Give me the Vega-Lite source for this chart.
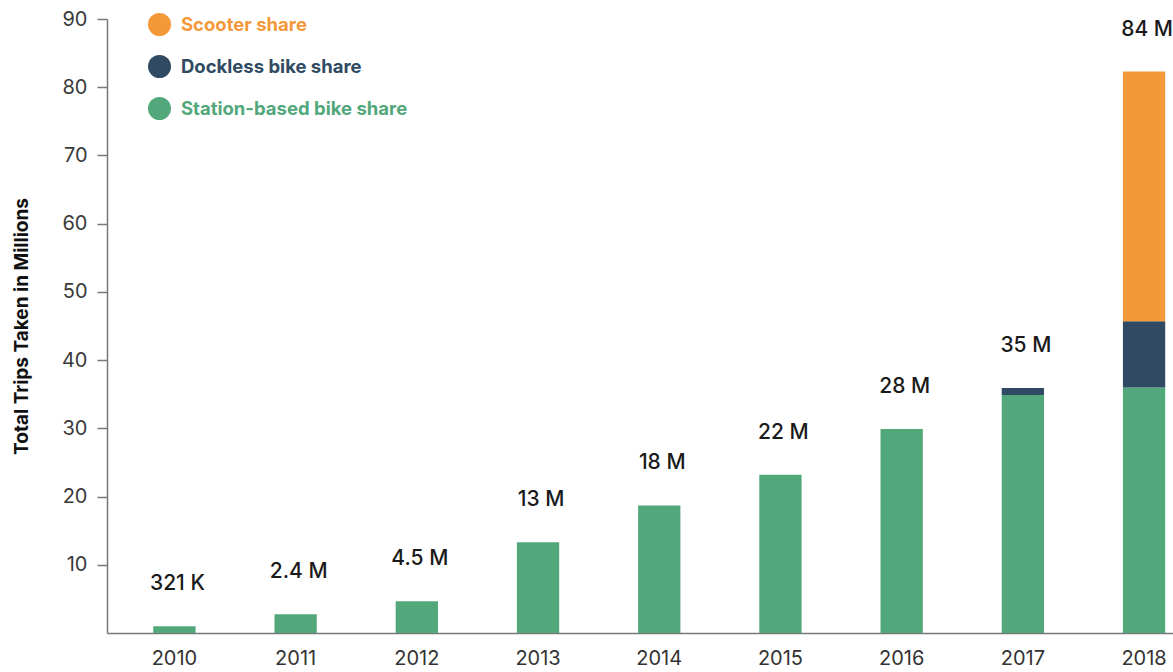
{
  "$schema": "https://vega.github.io/schema/vega-lite/v6.json",
  "autosize": "none",
  "width": 1066,
  "height": 614,
  "padding": {"left": 107, "top": 19, "right": 0, "bottom": 39},
  "background": "white",
  "config": {
    "view": {"stroke": null},
    "font": "Inter",
    "axis": {"grid": false}
  },
  "datasets": {
    "trips": [
      {"year": "2010", "type": "Station-based bike share", "rank": 1, "value": 1.0},
      {"year": "2011", "type": "Station-based bike share", "rank": 1, "value": 2.75},
      {"year": "2012", "type": "Station-based bike share", "rank": 1, "value": 4.65},
      {"year": "2013", "type": "Station-based bike share", "rank": 1, "value": 13.3},
      {"year": "2014", "type": "Station-based bike share", "rank": 1, "value": 18.7},
      {"year": "2015", "type": "Station-based bike share", "rank": 1, "value": 23.2},
      {"year": "2016", "type": "Station-based bike share", "rank": 1, "value": 29.9},
      {"year": "2017", "type": "Station-based bike share", "rank": 1, "value": 34.9},
      {"year": "2017", "type": "Dockless bike share", "rank": 2, "value": 1.0},
      {"year": "2018", "type": "Station-based bike share", "rank": 1, "value": 36.0},
      {"year": "2018", "type": "Dockless bike share", "rank": 2, "value": 9.7},
      {"year": "2018", "type": "Scooter share", "rank": 3, "value": 36.6}
    ],
    "totals": [
      {"year": "2010", "total": 1.0, "label": "321 K"},
      {"year": "2011", "total": 2.75, "label": "2.4 M"},
      {"year": "2012", "total": 4.65, "label": "4.5 M"},
      {"year": "2013", "total": 13.3, "label": "13 M"},
      {"year": "2014", "total": 18.7, "label": "18 M"},
      {"year": "2015", "total": 23.2, "label": "22 M"},
      {"year": "2016", "total": 29.9, "label": "28 M"},
      {"year": "2017", "total": 35.9, "label": "35 M"},
      {"year": "2018", "total": 82.3, "label": "84 M"}
    ]
  },
  "layer": [
    {
      "data": {"name": "trips"},
      "mark": {"type": "bar"},
      "encoding": {
        "x": {
          "field": "year",
          "type": "ordinal",
          "scale": {"paddingInner": 0.651, "paddingOuter": 0.223, "align": 0.856},
          "axis": {
            "title": null,
            "labelAngle": 0,
            "ticks": false,
            "domain": true,
            "domainColor": "#777777",
            "domainWidth": 1.5,
            "labelFontSize": 20,
            "labelColor": "#333333",
            "labelPadding": 15
          }
        },
        "y": {
          "field": "value",
          "type": "quantitative",
          "stack": "zero",
          "scale": {"domain": [0, 90], "nice": false},
          "axis": {
            "title": "Total Trips Taken in Millions",
            "titleFontSize": 19,
            "titleFontWeight": "bold",
            "titleColor": "#111111",
            "titlePadding": 30,
            "values": [10, 20, 30, 40, 50, 60, 70, 80, 90],
            "domainColor": "#777777",
            "domainWidth": 1.5,
            "tickColor": "#777777",
            "tickSize": 10,
            "tickWidth": 1.5,
            "labelFontSize": 20,
            "labelColor": "#3a3a3a",
            "labelPadding": 10
          }
        },
        "color": {
          "field": "type",
          "type": "nominal",
          "scale": {
            "domain": ["Scooter share", "Dockless bike share", "Station-based bike share"],
            "range": ["#F4993A", "#2F4A62", "#52A87B"]
          },
          "legend": {
            "title": null,
            "orient": "none",
            "legendX": 41,
            "legendY": -6,
            "symbolType": "circle",
            "symbolSize": 529,
            "symbolStrokeWidth": 0,
            "symbolOpacity": 1,
            "labelFontSize": 18.5,
            "labelFontWeight": "bold",
            "labelOffset": 10,
            "labelLimit": 500,
            "rowPadding": 19,
            "padding": 0,
            "encode": {
              "labels": {"update": {"fill": {"scale": "color", "field": "value"}}}
            }
          }
        },
        "order": {"field": "rank", "type": "quantitative", "sort": "ascending"}
      }
    },
    {
      "data": {"name": "totals"},
      "mark": {"type": "text", "baseline": "middle", "align": "center", "dy": -42, "dx": 3, "fontSize": 21, "fontWeight": 500, "color": "#1a1a1a"},
      "encoding": {
        "x": {"field": "year", "type": "ordinal"},
        "y": {"field": "total", "type": "quantitative"},
        "text": {"field": "label"}
      }
    }
  ]
}
